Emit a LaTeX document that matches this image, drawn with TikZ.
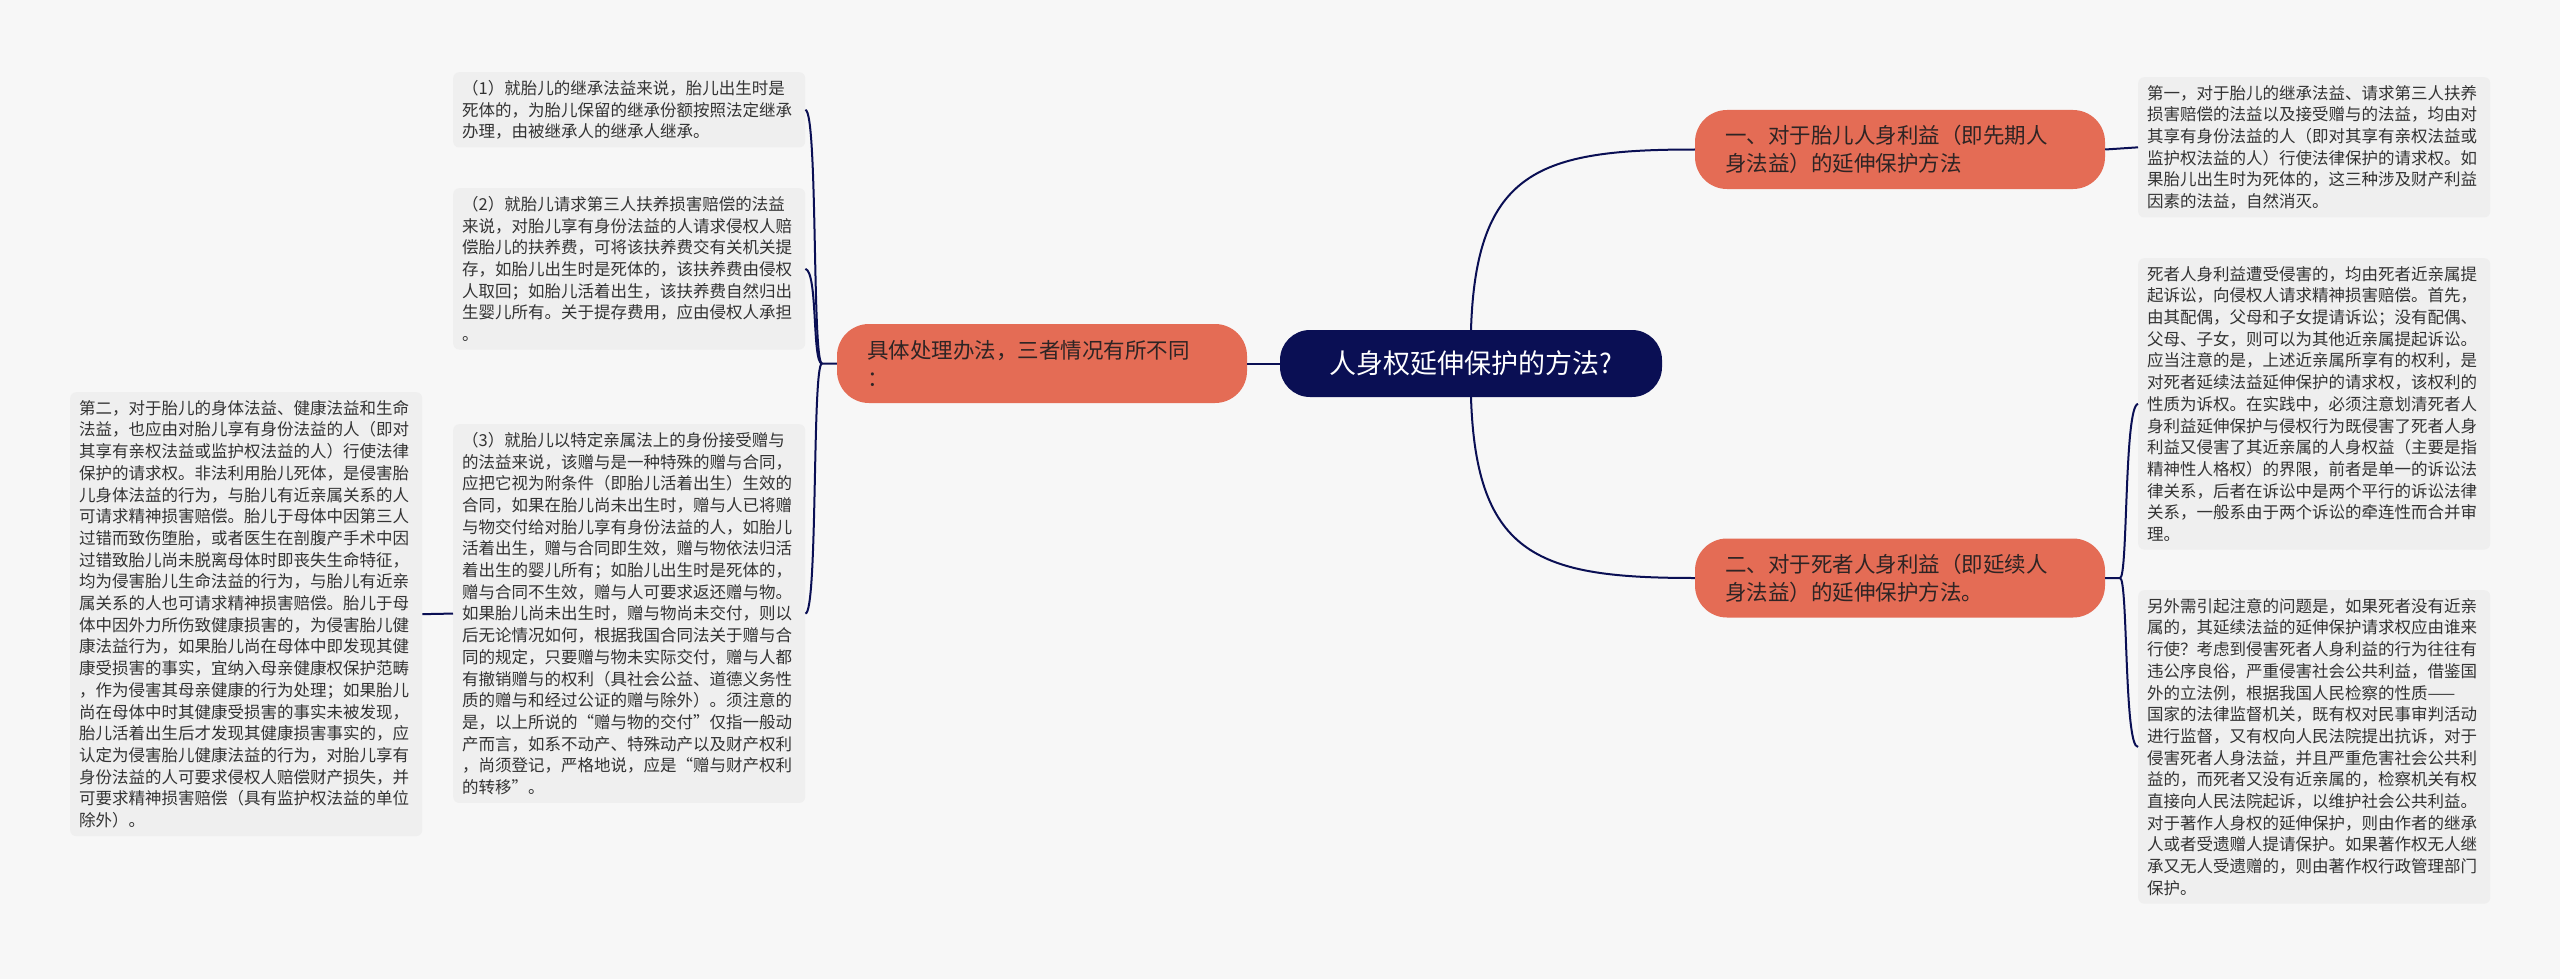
\documentclass[tikz,border=0pt]{standalone}
\usepackage{fontspec}
\setmainfont{Noto Sans CJK SC}
\begin{document}
\begin{tikzpicture}[x=1pt,y=-1pt,
  txtbox/.style={anchor=north west,fill=boxc,rounded corners=6pt,text width=334pt,align=left,inner xsep=9pt,inner ysep=8pt,font=\fontsize{16.5}{21.7}\selectfont,text=txtc},
  branch/.style={fill=orangec,rounded corners=32pt,minimum width=410pt,minimum height=79pt,text width=350pt,align=left,inner xsep=30pt,font=\fontsize{21.5}{28}\selectfont,text=brtxt},
  link/.style={draw=navyc,line width=2pt}]
\definecolor{bgc}{HTML}{F7F7F7}
\definecolor{boxc}{HTML}{EFEFEF}
\definecolor{orangec}{HTML}{E46C55}
\definecolor{navyc}{HTML}{0A0F54}
\definecolor{txtc}{HTML}{333333}
\definecolor{brtxt}{HTML}{2E2424}
\fill[bgc] (0,0) rectangle (2560,979);
\useasboundingbox (0,0) rectangle (2560,979);

\node[fill=navyc,rounded corners=30pt,minimum width=382pt,minimum height=67pt,text=white,font=\fontsize{27}{32}\selectfont] (c) at (1471,363.5) {人身权延伸保护的方法?};
\node[branch] (l) at (1042,363.5) {具体处理办法，三者情况有所不同\\：};
\node[branch] (tr) at (1900,149.5) {一、对于胎儿人身利益（即先期人\\身法益）的延伸保护方法};
\node[branch] (br) at (1900,578) {二、对于死者人身利益（即延续人\\身法益）的延伸保护方法。};

\node[txtbox] (m1) at (453,72) {（1）就胎儿的继承法益来说，胎儿出生时是\\死体的，为胎儿保留的继承份额按照法定继承\\办理，由被继承人的继承人继承。};
\node[txtbox] (m2) at (453,188) {（2）就胎儿请求第三人扶养损害赔偿的法益\\来说，对胎儿享有身份法益的人请求侵权人赔\\偿胎儿的扶养费，可将该扶养费交有关机关提\\存，如胎儿出生时是死体的，该扶养费由侵权\\人取回；如胎儿活着出生，该扶养费自然归出\\生婴儿所有。关于提存费用，应由侵权人承担\\。};
\node[txtbox] (m3) at (453,424) {（3）就胎儿以特定亲属法上的身份接受赠与\\的法益来说，该赠与是一种特殊的赠与合同，\\应把它视为附条件（即胎儿活着出生）生效的\\合同，如果在胎儿尚未出生时，赠与人已将赠\\与物交付给对胎儿享有身份法益的人，如胎儿\\活着出生，赠与合同即生效，赠与物依法归活\\着出生的婴儿所有；如胎儿出生时是死体的，\\赠与合同不生效，赠与人可要求返还赠与物。\\如果胎儿尚未出生时，赠与物尚未交付，则以\\后无论情况如何，根据我国合同法关于赠与合\\同的规定，只要赠与物未实际交付，赠与人都\\有撤销赠与的权利（具社会公益、道德义务性\\质的赠与和经过公证的赠与除外）。须注意的\\是，以上所说的“赠与物的交付”仅指一般动\\产而言，如系不动产、特殊动产以及财产权利\\，尚须登记，严格地说，应是“赠与财产权利\\的转移”。};
\node[txtbox] (lb) at (70,392) {第二，对于胎儿的身体法益、健康法益和生命\\法益，也应由对胎儿享有身份法益的人（即对\\其享有亲权法益或监护权法益的人）行使法律\\保护的请求权。非法利用胎儿死体，是侵害胎\\儿身体法益的行为，与胎儿有近亲属关系的人\\可请求精神损害赔偿。胎儿于母体中因第三人\\过错而致伤堕胎，或者医生在剖腹产手术中因\\过错致胎儿尚未脱离母体时即丧失生命特征，\\均为侵害胎儿生命法益的行为，与胎儿有近亲\\属关系的人也可请求精神损害赔偿。胎儿于母\\体中因外力所伤致健康损害的，为侵害胎儿健\\康法益行为，如果胎儿尚在母体中即发现其健\\康受损害的事实，宜纳入母亲健康权保护范畴\\，作为侵害其母亲健康的行为处理；如果胎儿\\尚在母体中时其健康受损害的事实未被发现，\\胎儿活着出生后才发现其健康损害事实的，应\\认定为侵害胎儿健康法益的行为，对胎儿享有\\身份法益的人可要求侵权人赔偿财产损失，并\\可要求精神损害赔偿（具有监护权法益的单位\\除外）。};
\node[txtbox] (r1) at (2138,77) {第一，对于胎儿的继承法益、请求第三人扶养\\损害赔偿的法益以及接受赠与的法益，均由对\\其享有身份法益的人（即对其享有亲权法益或\\监护权法益的人）行使法律保护的请求权。如\\果胎儿出生时为死体的，这三种涉及财产利益\\因素的法益，自然消灭。};
\node[txtbox] (r2) at (2138,258) {死者人身利益遭受侵害的，均由死者近亲属提\\起诉讼，向侵权人请求精神损害赔偿。首先，\\由其配偶，父母和子女提请诉讼；没有配偶、\\父母、子女，则可以为其他近亲属提起诉讼。\\应当注意的是，上述近亲属所享有的权利，是\\对死者延续法益延伸保护的请求权，该权利的\\性质为诉权。在实践中，必须注意划清死者人\\身利益延伸保护与侵权行为既侵害了死者人身\\利益又侵害了其近亲属的人身权益（主要是指\\精神性人格权）的界限，前者是单一的诉讼法\\律关系，后者在诉讼中是两个平行的诉讼法律\\关系，一般系由于两个诉讼的牵连性而合并审\\理。};
\node[txtbox] (r3) at (2138,590) {另外需引起注意的问题是，如果死者没有近亲\\属的，其延续法益的延伸保护请求权应由谁来\\行使？考虑到侵害死者人身利益的行为往往有\\违公序良俗，严重侵害社会公共利益，借鉴国\\外的立法例，根据我国人民检察的性质——\\国家的法律监督机关，既有权对民事审判活动\\进行监督，又有权向人民法院提出抗诉，对于\\侵害死者人身法益，并且严重危害社会公共利\\益的，而死者又没有近亲属的，检察机关有权\\直接向人民法院起诉，以维护社会公共利益。\\对于著作人身权的延伸保护，则由作者的继承\\人或者受遗赠人提请保护。如果著作权无人继\\承又无人受遗赠的，则由著作权行政管理部门\\保护。};

\coordinate (lj) at (822,363.5);
\coordinate (rj) at (2120,578);
\draw[link] (c.west) -- (l.east);
\draw[link] (c.north) .. controls (1476,170) and (1540,149.5) .. (tr.west);
\draw[link] (c.south) .. controls (1476,557) and (1540,578) .. (br.west);
\draw[link] (tr.east) -- (r1.west);
\draw[link] (l.west) -- (lj) .. controls (812,363.5) and (818,112) .. (m1.east);
\draw[link] (lj) .. controls (812,363.5) and (818,272) .. (m2.east);
\draw[link] (lj) .. controls (812,363.5) and (818,613) .. (m3.east);
\draw[link] (m3.west) -- (lb.east);
\draw[link] (br.east) -- (rj) .. controls (2128,578) and (2124,406) .. (r2.west);
\draw[link] (rj) .. controls (2128,578) and (2124,748) .. (r3.west);
\end{tikzpicture}
\end{document}
